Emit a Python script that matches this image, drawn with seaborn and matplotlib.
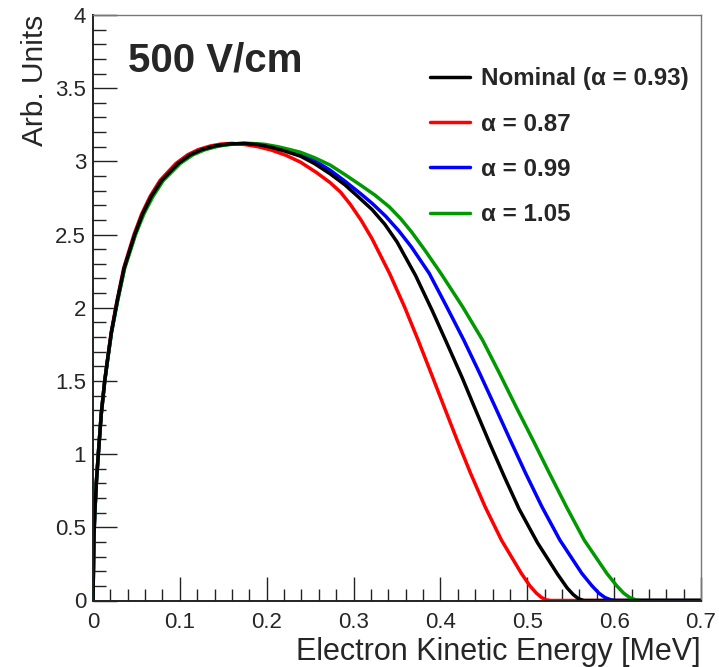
import matplotlib
matplotlib.use("Agg")
import matplotlib.pyplot as plt
import seaborn as sns
import pandas as pd
from matplotlib.ticker import MultipleLocator
from matplotlib.lines import Line2D

# spectra: electron kinetic energy [MeV] vs arb. units
nominal_x = [0, 0.001, 0.002, 0.004, 0.0066, 0.0096, 0.0135, 0.0173, 0.0211, 0.028, 0.0358,
             0.048, 0.057, 0.067, 0.079, 0.098, 0.112, 0.125, 0.14, 0.155, 0.173,
             0.19, 0.205, 0.22, 0.239, 0.255, 0.273, 0.29, 0.305, 0.3214, 0.336, 0.35,
             0.3714, 0.3906, 0.408, 0.4252, 0.4406, 0.457, 0.474, 0.4906, 0.5117, 0.5348,
             0.546, 0.553, 0.559, 0.565, 0.7]
nominal_y = [0, 0.42, 0.59, 0.82, 1.04, 1.28, 1.50, 1.67, 1.83, 2.05, 2.27,
             2.50, 2.64, 2.76, 2.87, 2.986, 3.045, 3.08, 3.105, 3.118, 3.123,
             3.115, 3.097, 3.072, 3.035, 2.985, 2.915, 2.84, 2.76, 2.67, 2.57, 2.45,
             2.22, 1.98, 1.75, 1.52, 1.30, 1.07, 0.84, 0.625, 0.395, 0.18,
             0.085, 0.04, 0.012, 0, 0]

a087_x = [0, 0.001, 0.002, 0.004, 0.0066, 0.0096, 0.0135, 0.0172, 0.0209, 0.0277, 0.0353,
          0.0472, 0.056, 0.0657, 0.0772, 0.0955, 0.109, 0.121, 0.135, 0.147, 0.160,
          0.175, 0.19, 0.205, 0.222, 0.2388, 0.257, 0.273, 0.285, 0.2964, 0.309, 0.3214,
          0.3414, 0.3586, 0.3743, 0.3893, 0.4042, 0.4192, 0.4347, 0.4514, 0.4702, 0.4931,
          0.503, 0.5105, 0.5165, 0.522, 0.527, 0.7]
a087_y = [0, 0.42, 0.59, 0.82, 1.04, 1.28, 1.50, 1.67, 1.83, 2.05, 2.27,
          2.50, 2.64, 2.76, 2.87, 2.986, 3.045, 3.08, 3.105, 3.118, 3.123,
          3.115, 3.10, 3.078, 3.042, 2.995, 2.925, 2.855, 2.79, 2.705, 2.595, 2.47,
          2.235, 2.007, 1.779, 1.552, 1.324, 1.096, 0.869, 0.641, 0.413, 0.186,
          0.10, 0.05, 0.02, 0.004, 0, 0]

a099_x = [0, 0.001, 0.002, 0.004, 0.0066, 0.0096, 0.0135, 0.0174, 0.0212, 0.0282, 0.0361,
          0.0485, 0.0576, 0.0678, 0.080, 0.0992, 0.1135, 0.127, 0.1425, 0.158, 0.175,
          0.192, 0.21, 0.227, 0.2388, 0.255, 0.273, 0.29, 0.308, 0.322, 0.337, 0.352,
          0.3665, 0.3871, 0.4072, 0.4269, 0.4452, 0.4629, 0.4804, 0.4981, 0.5168, 0.5375,
          0.5627, 0.5745, 0.5825, 0.5895, 0.5965, 0.6015, 0.7]
a099_y = [0, 0.42, 0.59, 0.82, 1.04, 1.28, 1.50, 1.67, 1.83, 2.05, 2.27,
          2.50, 2.64, 2.76, 2.87, 2.986, 3.045, 3.08, 3.105, 3.118, 3.123,
          3.115, 3.095, 3.065, 3.045, 3.005, 2.94, 2.865, 2.78, 2.71, 2.625, 2.526,
          2.416, 2.235, 2.007, 1.779, 1.552, 1.324, 1.096, 0.869, 0.641, 0.413,
          0.186, 0.10, 0.05, 0.02, 0.004, 0, 0]

a105_x = [0, 0.001, 0.002, 0.004, 0.0066, 0.0096, 0.0135, 0.0175, 0.0213, 0.0285, 0.0365,
          0.049, 0.0585, 0.069, 0.081, 0.1005, 0.115, 0.129, 0.145, 0.161, 0.180,
          0.197, 0.213, 0.227, 0.239, 0.255, 0.273, 0.29, 0.308, 0.3245, 0.341, 0.354,
          0.3665, 0.382, 0.4005, 0.4255, 0.4485, 0.468, 0.487, 0.5065, 0.5255, 0.545,
          0.5655, 0.5915, 0.603, 0.611, 0.618, 0.625, 0.630, 0.7]
a105_y = [0, 0.42, 0.59, 0.82, 1.04, 1.28, 1.50, 1.67, 1.83, 2.05, 2.27,
          2.50, 2.64, 2.76, 2.87, 2.986, 3.045, 3.08, 3.105, 3.118, 3.123,
          3.117, 3.10, 3.08, 3.062, 3.025, 2.975, 2.91, 2.838, 2.77, 2.69, 2.61,
          2.52, 2.394, 2.235, 2.007, 1.779, 1.552, 1.324, 1.096, 0.869, 0.641,
          0.413, 0.186, 0.10, 0.05, 0.02, 0.004, 0, 0]

labels = ["Nominal (α = 0.93)", "α = 0.87", "α = 0.99", "α = 1.05"]
colors = ["black", "#ff0000", "#0000ff", "#009900"]

sns.set_style("ticks")
plt.rcParams["font.family"] = ["Liberation Sans", "DejaVu Sans"]

fig = plt.figure(figsize=(7.19, 6.67), dpi=100)
ax = fig.add_axes([93 / 719, 1 - 600.5 / 667, (701 - 93) / 719, (600.5 - 15) / 667])

# black is drawn last so it sits on top
series = [(a087_x, a087_y, colors[1]), (a099_x, a099_y, colors[2]),
          (a105_x, a105_y, colors[3]), (nominal_x, nominal_y, colors[0])]
for xs, ys, c in series:
    df = pd.DataFrame({"E": xs, "y": ys})
    sns.lineplot(data=df, x="E", y="y", color=c, lw=2.5, ax=ax, sort=False,
                 estimator=None, legend=False)

ax.set_xlim(0, 0.7)
ax.set_ylim(0, 4)
ax.set_xticks([0, 0.1, 0.2, 0.3, 0.4, 0.5, 0.6, 0.7])
ax.set_xticklabels(["0", "0.1", "0.2", "0.3", "0.4", "0.5", "0.6", "0.7"])
ax.set_yticks([0, 0.5, 1, 1.5, 2, 2.5, 3, 3.5, 4])
ax.set_yticklabels(["0", "0.5", "1", "1.5", "2", "2.5", "3", "3.5", "4"])
ax.xaxis.set_minor_locator(MultipleLocator(0.02))
ax.yaxis.set_minor_locator(MultipleLocator(0.1))
ax.tick_params(which="major", direction="in", length=17, width=1, labelsize=16, color="#222222")
ax.tick_params(which="minor", direction="in", length=9, width=1, color="#222222")
ax.tick_params(axis="x", which="major", pad=8)
ax.tick_params(axis="y", which="major", pad=5)

for side in ["left", "bottom"]:
    ax.spines[side].set_color("#222222")
    ax.spines[side].set_linewidth(1.4)
for side in ["top", "right"]:
    ax.spines[side].set_color("#777777")
    ax.spines[side].set_linewidth(1.0)

ax.set_xlabel("Electron Kinetic Energy [MeV]", fontsize=22, loc="right", labelpad=3)
ax.set_ylabel("Arb. Units", fontsize=21.5, loc="top", labelpad=4)

ax.text(0.058, 0.9027, "500 V/cm", transform=ax.transAxes, fontsize=29,
        fontweight="bold", va="baseline")

handles = [Line2D([], [], color=c, lw=2.5) for c in colors]
ax.legend(handles, labels, loc="upper left", bbox_to_anchor=(0.5383, 0.927), frameon=False,
          prop={"weight": "bold", "size": 17.4}, handlelength=1.65, handletextpad=0.48,
          labelspacing=0.92, borderaxespad=0)

fig.savefig("out.png", dpi=100)
